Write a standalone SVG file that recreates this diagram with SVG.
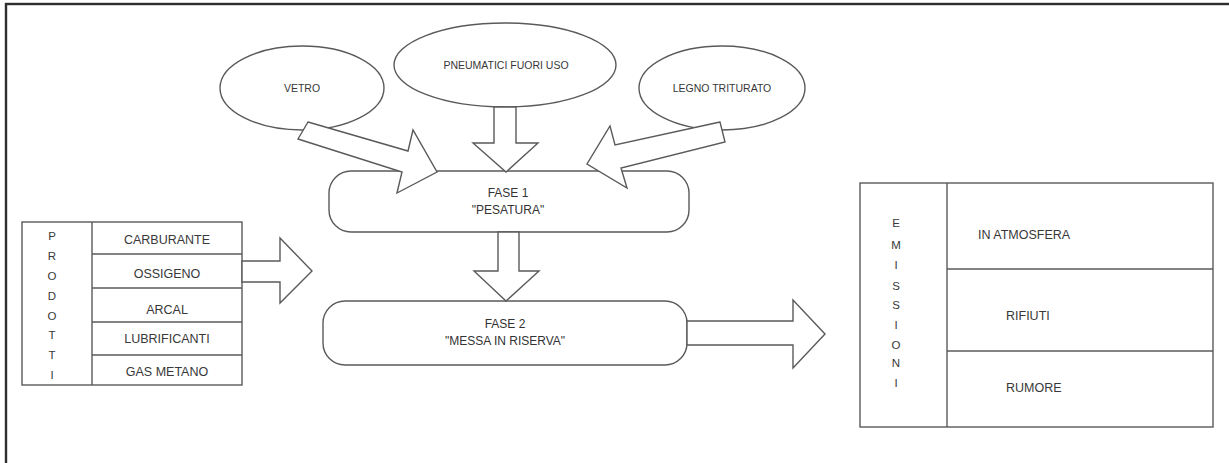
<svg xmlns="http://www.w3.org/2000/svg" width="1229" height="463" viewBox="0 0 1229 463">
<style>
.shape{fill:#fff;stroke:#5a5a5a;stroke-width:1.4}
.line{stroke:#5a5a5a;stroke-width:1.4;fill:none}
.arrow{fill:#fff;stroke:#5a5a5a;stroke-width:1.4;stroke-linejoin:miter}
.lbl{font-family:"Liberation Sans",Arial,sans-serif;font-size:10.5px;fill:#383838;text-anchor:middle}
.fase{font-family:"Liberation Sans",Arial,sans-serif;font-size:12px;fill:#333;text-anchor:middle}
.tbl{font-family:"Liberation Sans",Arial,sans-serif;font-size:12.5px;fill:#383838;text-anchor:middle}
.tbls{font-family:"Liberation Sans",Arial,sans-serif;font-size:12.5px;fill:#383838;text-anchor:start}
.vl{font-family:"Liberation Sans",Arial,sans-serif;font-size:11.5px;fill:#383838;text-anchor:middle}
</style>
<rect width="1229" height="463" fill="#fff"/>
<rect x="6" y="4" width="1240" height="480" fill="none" stroke="#2e2e2e" stroke-width="2.4"/>

<g id="vetro">
<ellipse class="shape" cx="302" cy="88" rx="82" ry="42"/>
<text class="lbl" x="302" y="92">VETRO</text>
</g>
<g id="pneumatici">
<ellipse class="shape" cx="505" cy="65" rx="111" ry="42"/>
<text class="lbl" x="506" y="69">PNEUMATICI FUORI USO</text>
</g>
<g id="legno">
<ellipse class="shape" cx="722" cy="88" rx="83" ry="42"/>
<text class="lbl" x="722" y="92">LEGNO TRITURATO</text>
</g>

<g id="prodotti">
<rect class="shape" x="22" y="222" width="220" height="163"/>
<line class="line" x1="92" y1="222" x2="92" y2="385"/>
<line class="line" x1="92" y1="254" x2="242" y2="254"/>
<line class="line" x1="92" y1="288" x2="242" y2="288"/>
<line class="line" x1="92" y1="322" x2="242" y2="322"/>
<line class="line" x1="92" y1="355" x2="242" y2="355"/>
<text class="vl" x="52" y="240">P</text>
<text class="vl" x="52" y="260">R</text>
<text class="vl" x="52" y="280">O</text>
<text class="vl" x="52" y="300">D</text>
<text class="vl" x="52" y="320">O</text>
<text class="vl" x="52" y="339">T</text>
<text class="vl" x="52" y="359">T</text>
<text class="vl" x="52" y="379">I</text>
<text class="tbl" x="167" y="244">CARBURANTE</text>
<text class="tbl" x="167" y="278">OSSIGENO</text>
<text class="tbl" x="167" y="314">ARCAL</text>
<text class="tbl" x="167" y="343">LUBRIFICANTI</text>
<text class="tbl" x="167" y="376">GAS METANO</text>
</g>

<g id="emissioni">
<rect class="shape" x="860" y="183" width="353" height="244"/>
<line class="line" x1="947" y1="183" x2="947" y2="427"/>
<line class="line" x1="947" y1="269" x2="1213" y2="269"/>
<line class="line" x1="947" y1="351" x2="1213" y2="351"/>
<text class="vl" x="896" y="227">E</text>
<text class="vl" x="896" y="249">M</text>
<text class="vl" x="896" y="269">I</text>
<text class="vl" x="896" y="290">S</text>
<text class="vl" x="896" y="309">S</text>
<text class="vl" x="896" y="329">I</text>
<text class="vl" x="896" y="349">O</text>
<text class="vl" x="896" y="367">N</text>
<text class="vl" x="896" y="387">I</text>
<text class="tbls" x="978" y="239">IN ATMOSFERA</text>
<text class="tbls" x="1006" y="320">RIFIUTI</text>
<text class="tbls" x="1006" y="392">RUMORE</text>
</g>

<g id="fase1">
<rect class="shape" x="329" y="171" width="360" height="61" rx="22" ry="22"/>
<text class="fase" x="508" y="197">FASE 1</text>
<text class="fase" x="508" y="214">"PESATURA"</text>
</g>
<g id="fase2">
<rect class="shape" x="323" y="301" width="364" height="64" rx="22" ry="22"/>
<text class="fase" x="505" y="328">FASE 2</text>
<text class="fase" x="505" y="345">"MESSA IN RISERVA"</text>
</g>

<g id="connectors">
<polygon class="arrow" points="308,122 408,151 413,130 437,172 397,193 402,172 298,139"/>
<polygon class="arrow" points="494,107 516,107 516,143 538,143 506,172 473,143 494,143"/>
<polygon class="arrow" points="720,122 615,145 610,126 587,164 627,188 621,168 725,142"/>
<polygon class="arrow" points="498,232 519,232 519,271 539,271 506,301 474,271 498,271"/>
<polygon class="arrow" points="242,261 280,261 280,238 312,271 280,303 280,282 242,282"/>
<polygon class="arrow" points="687,321 793,321 793,300 825,334 793,368 793,345 687,345"/>
</g>
</svg>
